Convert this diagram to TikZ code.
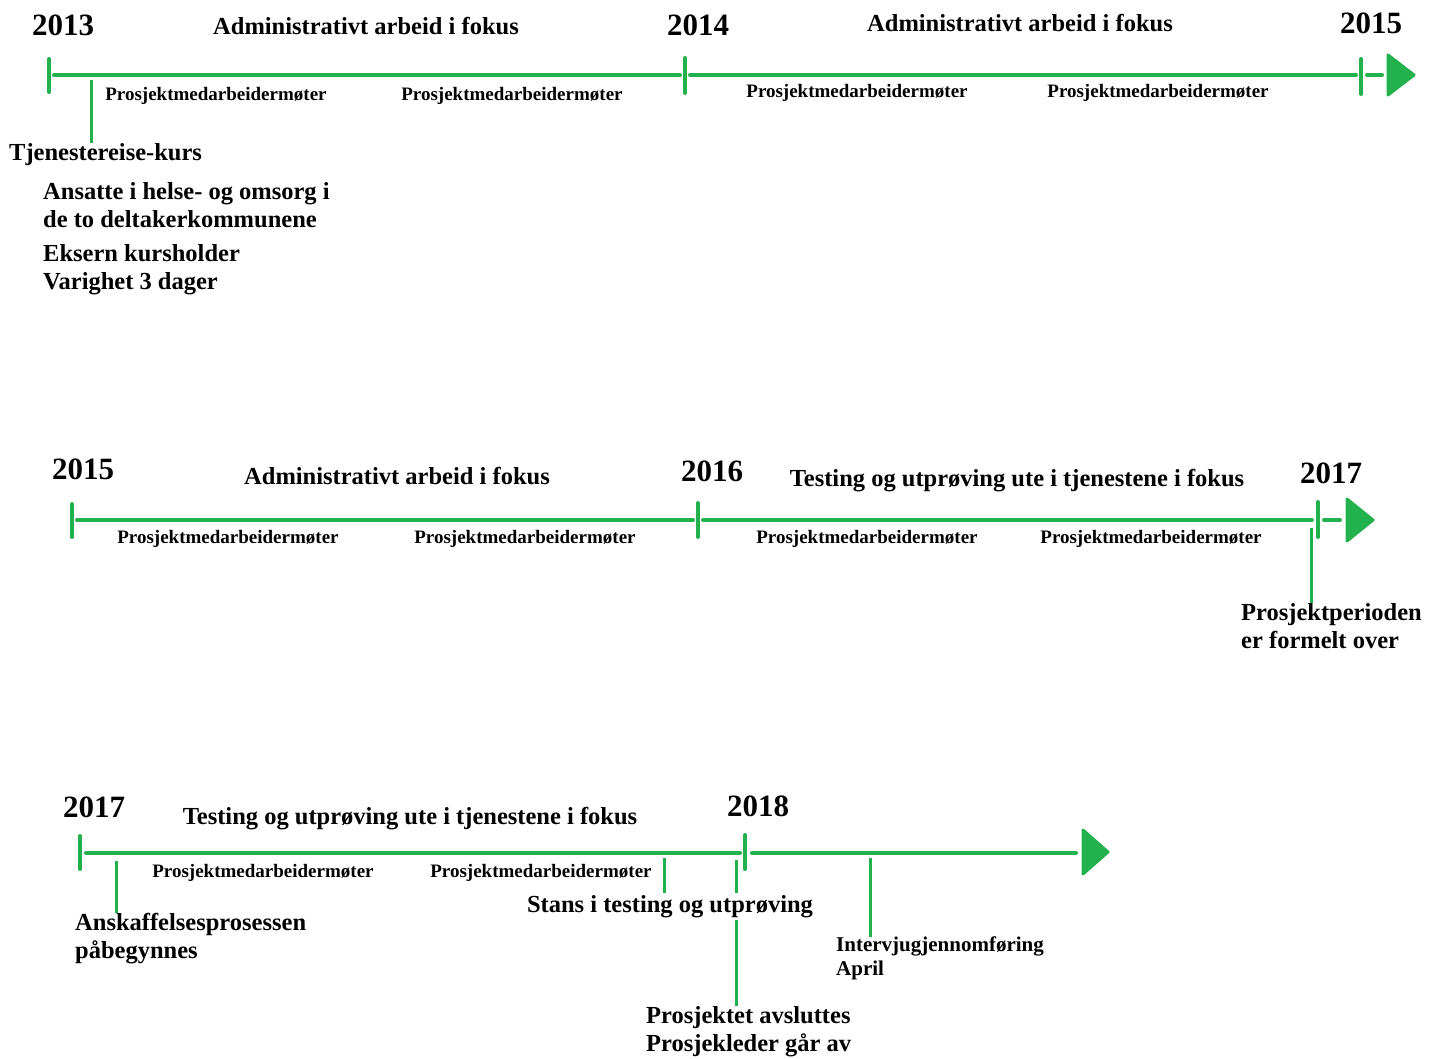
\documentclass[tikz,border=0pt]{standalone}
\usepackage{fontspec}
\setmainfont{Liberation Serif}
\definecolor{tlgreen}{HTML}{22B14C}
\begin{document}
\begin{tikzpicture}[x=1pt,y=-1pt,
  axis/.style={draw=tlgreen, line width=4pt, line cap=round},
  tickmark/.style={draw=tlgreen, line width=4pt, line cap=round},
  link/.style={draw=tlgreen, line width=3pt},
  head/.style={fill=tlgreen, draw=tlgreen, line width=3pt, line join=round},
  year/.style={font=\fontsize{31}{36}\selectfont\bfseries, inner sep=0pt, anchor=base},
  phase/.style={font=\fontsize{24.5}{28}\selectfont\bfseries, inner sep=0pt, anchor=base},
  meet/.style={font=\fontsize{19}{22}\selectfont\bfseries, inner sep=0pt, anchor=base},
  note/.style={font=\fontsize{24.5}{28}\selectfont\bfseries, inner sep=0pt, align=left, anchor=north west},
  smallnote/.style={font=\fontsize{21}{24}\selectfont\bfseries, inner sep=0pt, align=left, anchor=north west},
]
\useasboundingbox (0,0) rectangle (1440,1059);

% ---------- 2013 -- 2015 ----------
\coordinate (a0) at (49,75);
\coordinate (a1) at (685,75);
\coordinate (a2) at (1361,75);
\draw[tickmark] ([yshift=-17]a0) -- ([yshift=16]a0);
\draw[tickmark] ([yshift=-18]a1) -- ([yshift=17]a1);
\draw[tickmark] ([yshift=-19]a2) -- ([yshift=16]a2);
\draw[axis] ([xshift=5]a0) -- ([xshift=-5]a1);
\draw[axis] ([xshift=5]a1) -- ([xshift=-5]a2);
\draw[axis] ([xshift=6]a2) -- ([xshift=21]a2);
\draw[head] (1388,55) -- (1414,75) -- (1388,95) -- cycle;

\node[year] (y2013) at (63,36) {2013};
\node[year] (y2014a) at (698,36) {2014};
\node[year] (y2015a) at (1371,34) {2015};
\node[phase] (ph1) at (366,35) {Administrativt arbeid i fokus};
\node[phase] (ph2) at (1020,32) {Administrativt arbeid i fokus};
\node[meet] (m1) at (216,101) {Prosjektmedarbeidermøter};
\node[meet] (m2) at (512,101) {Prosjektmedarbeidermøter};
\node[meet] (m3) at (857,98) {Prosjektmedarbeidermøter};
\node[meet] (m4) at (1158,98) {Prosjektmedarbeidermøter};

\node[note] (kurs) at (9,143) {Tjenestereise-kurs};
\node[note] (ansatte) at (43,182) {Ansatte i helse- og omsorg i\\de to deltakerkommunene};
\node[note] (eksern) at (43,244) {Eksern kursholder\\Varighet 3 dager};
\coordinate (k0) at (91,80);
\draw[link] (k0) -- (k0 |- kurs.north);

% ---------- 2015 -- 2017 ----------
\coordinate (b0) at (72,520);
\coordinate (b1) at (698,520);
\coordinate (b2) at (1318,520);
\draw[tickmark] ([yshift=-17]b0) -- ([yshift=16]b0);
\draw[tickmark] ([yshift=-17]b1) -- ([yshift=17]b1);
\draw[tickmark] ([yshift=-17]b2) -- ([yshift=18]b2);
\draw[axis] ([xshift=5]b0) -- ([xshift=-5]b1);
\draw[axis] ([xshift=5]b1) -- ([xshift=-6]b2);
\draw[axis] ([xshift=6]b2) -- ([xshift=22]b2);
\draw[head] (1347,499) -- (1373,520) -- (1347,541) -- cycle;

\node[year] (y2015b) at (83,479) {2015};
\node[year] (y2016) at (712,481) {2016};
\node[year] (y2017a) at (1331,483) {2017};
\node[phase] (ph3) at (397,484) {Administrativt arbeid i fokus};
\node[phase] (ph4) at (1017,486) {Testing og utprøving ute i tjenestene i fokus};
\node[meet] (m5) at (228,543) {Prosjektmedarbeidermøter};
\node[meet] (m6) at (525,543) {Prosjektmedarbeidermøter};
\node[meet] (m7) at (867,543) {Prosjektmedarbeidermøter};
\node[meet] (m8) at (1151,543) {Prosjektmedarbeidermøter};

\node[note] (slutt) at (1241,603) {Prosjektperioden\\er formelt over};
\coordinate (s0) at (1311,528);
\draw[link] (s0) -- (s0 |- slutt.north);

% ---------- 2017 -- 2018 ----------
\coordinate (c0) at (80,853);
\coordinate (c1) at (745,853);
\draw[tickmark] ([yshift=-16]c0) -- ([yshift=17]c0);
\draw[tickmark] ([yshift=-16]c1) -- ([yshift=18]c1);
\draw[axis] ([xshift=6]c0) -- ([xshift=-5]c1);
\draw[axis] ([xshift=7]c1) -- (1076,853);
\draw[head] (1083,830) -- (1108,852) -- (1083,874) -- cycle;

\node[year] (y2017b) at (94,817) {2017};
\node[year] (y2018) at (758,816) {2018};
\node[phase] (ph5) at (410,824) {Testing og utprøving ute i tjenestene i fokus};
\node[meet] (m9) at (263,877) {Prosjektmedarbeidermøter};
\node[meet] (m10) at (541,877) {Prosjektmedarbeidermøter};

\node[note] (anskaff) at (75,913) {Anskaffelsesprosessen\\påbegynnes};
\node[note] (avslutt) at (646,1006) {Prosjektet avsluttes\\Prosjekleder går av};
\node[smallnote] (intervju) at (836,937) {Intervjugjennomføring\\April};
\coordinate (d0) at (116,861);
\coordinate (d1) at (664,858);
\coordinate (d2) at (736,860);
\coordinate (d3) at (870,858);
\draw[link] (d0) -- (d0 |- anskaff.north);
\draw[link] (d2) -- (d2 |- avslutt.north);
\node[note, anchor=north, fill=white, inner sep=2pt] (stans) at (670,893) {Stans i testing og utprøving};
\draw[link] (d1) -- (d1 |- stans.north);
\draw[link] (d3) -- (d3 |- intervju.north);
\end{tikzpicture}
\end{document}
